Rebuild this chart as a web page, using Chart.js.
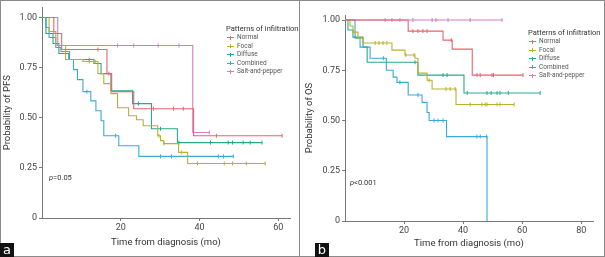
<!DOCTYPE html>
<html>
<head>
<meta charset="utf-8">
<script src="https://cdn.jsdelivr.net/npm/chart.js@4.4.1/dist/chart.umd.min.js"></script>
<style>
body { margin: 0; width: 605px; height: 257px; position: relative; background: #fff; overflow: hidden; font-family: Roboto, sans-serif; }
canvas { position: absolute; top: 0; }
#frame { position: absolute; left: 0; top: 0; width: 605px; height: 257px; box-sizing: border-box; border: 1px solid #8a8a8a; }
#divider { position: absolute; left: 299px; top: 0; width: 1px; height: 257px; background: #8a8a8a; }
.legend { position: absolute; color: #555; }
.legend .ttl { font-size: 7.5px; color: #333; height: 9px; line-height: 9px; }
.legend .item { font-size: 6.5px; height: 8.5px; line-height: 8.5px; position: relative; padding-left: 11px; white-space: nowrap; }
.legend .sym { position: absolute; left: 1px; top: 4px; width: 7px; height: 1px; }
.legend .sym i { position: absolute; left: 3px; top: -1.5px; width: 1px; height: 4px; background: inherit; }
.pval { position: absolute; font-size: 7.5px; color: #333; }
.tag { position: absolute; width: 14px; height: 14px; background: #111; color: #fff; font: 13px "DejaVu Sans", sans-serif; line-height: 13px; text-align: center; }
</style>
</head>
<body>
<canvas id="chartA" width="298" height="257" style="left:0"></canvas>
<canvas id="chartB" width="304" height="257" style="left:301px"></canvas>
<div id="frame"></div>
<div id="divider"></div>
<div class="legend" id="legA" style="left:226px; top:24px"></div>
<div class="legend" id="legB" style="left:528px; top:28px"></div>
<div class="pval" style="left:49px; top:173px"><i>p</i>=0.05</div>
<div class="pval" style="left:350px; top:178px"><i>p</i>&lt;0.001</div>
<div class="tag" style="left:0; top:243px">a</div>
<div class="tag" style="left:315px; top:243px">b</div>
<script>
const groups = ["Normal", "Focal", "Diffuse", "Combined", "Salt-and-pepper"];
const colors = ["#e8646e", "#b9b12c", "#27a98c", "#3aaad6", "#d77cc0"];

// panel a - progression free survival (months, probability)
const pfsNormalT = [0, 3, 5, 16.5, 17.7, 23.3, 38.5, 61];
const pfsNormalS = [1, 0.92, 0.84, 0.72, 0.63, 0.545, 0.41, 0.41];
const pfsNormalC = [14.2, 17, 28.3, 33.4, 35.9, 44.3, 61];

const pfsFocalT = [0, 1.8, 3.5, 6, 10.4, 14.2, 15.7, 17.5, 19.2, 22, 24, 25.7, 29.4, 30.1, 30.9, 34.7, 37, 56.7];
const pfsFocalS = [1, 0.93, 0.86, 0.79, 0.78, 0.72, 0.67, 0.62, 0.55, 0.51, 0.49, 0.46, 0.41, 0.386, 0.371, 0.327, 0.272, 0.272];
const pfsFocalC = [12, 13.5, 29.7, 31, 35.5, 39.5, 46.3, 48.4, 51.9, 56.7];

const pfsDiffuseT = [0, 1, 2.8, 4.3, 6.8, 13.2, 15, 17.5, 23, 27.8, 34.4, 55.9];
const pfsDiffuseS = [1, 0.92, 0.87, 0.82, 0.79, 0.77, 0.72, 0.634, 0.57, 0.445, 0.376, 0.376];
const pfsDiffuseC = [12, 24.5, 30.1, 34.8, 42.8, 47.3, 48.4, 51.1, 52.9, 55.9];

const pfsCombinedT = [0, 1, 1.8, 3.5, 4.8, 7, 8, 9, 10.4, 12.4, 13.7, 15, 15.7, 19.5, 24.6, 48.6];
const pfsCombinedS = [1, 0.95, 0.9, 0.85, 0.83, 0.79, 0.74, 0.69, 0.63, 0.584, 0.535, 0.485, 0.41, 0.36, 0.307, 0.307];
const pfsCombinedC = [11.4, 18.7, 30.1, 32.9, 44.8, 46.1, 48.6];

const pfsSaltT = [0, 4, 38.3, 42.5];
const pfsSaltS = [1, 0.86, 0.426, 0.426];
const pfsSaltC = [19.2, 23.3, 29.5, 34.8, 42.5];

// panel b - overall survival
const osNormalT = [0, 21.4, 33.2, 36.3, 43.1, 60.3];
const osNormalS = [1, 0.945, 0.9, 0.855, 0.726, 0.726];
const osNormalC = [23, 24.7, 26.4, 27.8, 36, 44.7, 45.8, 49.8, 50.3, 60.3];

const osFocalT = [0, 1.7, 2.7, 4.4, 6.1, 15.9, 20.3, 23.7, 24.7, 27.8, 29.5, 37.6, 57.3];
const osFocalS = [1, 0.97, 0.94, 0.91, 0.886, 0.85, 0.826, 0.81, 0.736, 0.7, 0.657, 0.58, 0.58];
const osFocalC = [10.2, 11.5, 12.9, 14.2, 20.6, 23.4, 28.5, 34.2, 35.6, 37.3, 42.4, 46.4, 47.5, 48.1, 51.5, 52.5, 57.3];

const osDiffuseT = [0, 1, 2.7, 6.1, 7.5, 24.7, 40.3, 66.1];
const osDiffuseS = [1, 0.95, 0.915, 0.866, 0.79, 0.726, 0.637, 0.637];
const osDiffuseC = [23.7, 33.2, 34.6, 41.4, 48.1, 49.5, 51.5, 52.5, 55.3, 66.1];

const osCombinedT = [0, 3.4, 5.1, 8.5, 14, 16.3, 17.6, 21.4, 26.1, 27.8, 28.5, 34.4, 48.1];
const osCombinedS = [1, 0.91, 0.865, 0.81, 0.75, 0.716, 0.69, 0.627, 0.59, 0.54, 0.5, 0.42, 0];
const osCombinedC = [13, 18.6, 24.7, 30.2, 31.5, 33.2, 44.7, 45.8, 48];

const osSaltT = [0, 53.2];
const osSaltS = [1, 1];
const osSaltC = [13.6, 15.9, 18.6, 23, 29.5, 30.8, 34.9, 42.4, 53.2];

const yTicks = [0, 0.25, 0.5, 0.75, 1];
const xTicksA = [20, 40, 60];
const xTicksB = [20, 40, 60, 80];

const pfsSeries = [
  [pfsNormalT, pfsNormalS, pfsNormalC],
  [pfsFocalT, pfsFocalS, pfsFocalC],
  [pfsDiffuseT, pfsDiffuseS, pfsDiffuseC],
  [pfsCombinedT, pfsCombinedS, pfsCombinedC],
  [pfsSaltT, pfsSaltS, pfsSaltC]
];
const osSeries = [
  [osNormalT, osNormalS, osNormalC],
  [osFocalT, osFocalS, osFocalC],
  [osDiffuseT, osDiffuseS, osDiffuseC],
  [osCombinedT, osCombinedS, osCombinedC],
  [osSaltT, osSaltS, osSaltC]
];

// value of the step curve at time t (used to put censor ticks on the curve)
function stepAt(T, S, t) {
  let v = S[0];
  for (let i = 0; i < T.length; i++) if (T[i] <= t) v = S[i];
  return v;
}

function buildDatasets(series) {
  const sets = [];
  series.forEach((s, i) => {
    const [T, S, C] = s;
    sets.push({
      data: T.map((t, j) => ({x: t, y: S[j]})),
      stepped: true,
      borderColor: colors[i],
      borderWidth: 1.1,
      pointRadius: 0,
      fill: false
    });
    sets.push({
      data: C.map(t => ({x: t, y: stepAt(T, S, t)})),
      showLine: false,
      pointStyle: 'line',
      rotation: 90,
      pointRadius: 2,
      borderColor: colors[i],
      borderWidth: 1
    });
  });
  return sets;
}

const tickFont = {family: 'Roboto', size: 9};
const titleFont = {family: 'Roboto', size: 9.5};

function makeChart(el, series, cfg) {
  return new Chart(el, {
    type: 'line',
    data: {datasets: buildDatasets(series)},
    options: {
      responsive: false,
      animation: false,
      events: [],
      layout: {padding: {top: cfg.top, right: cfg.right, left: 0, bottom: 0}},
      plugins: {legend: {display: false}, tooltip: {enabled: false}},
      scales: {
        x: {
          type: 'linear',
          min: 0,
          max: cfg.xMax,
          afterBuildTicks: s => { s.ticks = cfg.xTicks.map(v => ({value: v})); },
          afterFit: s => { s.height = cfg.xHeight; },
          grid: {drawOnChartArea: false, tickLength: 3, color: '#777'},
          border: {color: '#777'},
          ticks: {color: '#444', font: tickFont, padding: cfg.xPad, maxRotation: 0},
          title: {display: true, text: 'Time from diagnosis (mo)', color: '#333', font: titleFont, padding: {top: 0, bottom: cfg.titlePadB}}
        },
        y: {
          min: 0,
          max: cfg.yMax,
          afterBuildTicks: s => { s.ticks = yTicks.map(v => ({value: v})); },
          afterFit: s => { s.width = cfg.yWidth; },
          grid: {drawOnChartArea: false, tickLength: 3, color: '#777'},
          border: {color: '#777'},
          ticks: {color: '#444', font: tickFont, padding: 2, callback: v => v === 0 ? '0' : v.toFixed(2)},
          title: {display: true, text: cfg.yTitle, color: '#333', font: titleFont, padding: {top: cfg.yTitlePad, bottom: 0}}
        }
      }
    }
  });
}

makeChart(document.getElementById('chartA'), pfsSeries, {
  top: 6, right: 8, xMax: 63, yMax: 1.05, xTicks: xTicksA, xHeight: 39, xPad: 1,
  titlePadB: 9, yWidth: 42, yTitle: 'Probability of PFS', yTitlePad: 2
});
makeChart(document.getElementById('chartB'), osSeries, {
  top: 15, right: 12, xMax: 84, yMax: 1.025, xTicks: xTicksB, xHeight: 36, xPad: 1,
  titlePadB: 8, yWidth: 44, yTitle: 'Probability of OS', yTitlePad: 3
});

function buildLegend(id) {
  const box = document.getElementById(id);
  let html = '<div class="ttl">Patterns of infiltration</div>';
  groups.forEach((g, i) => {
    html += '<div class="item"><span class="sym" style="background:' + colors[i] + '"><i></i></span>' + g + '</div>';
  });
  box.innerHTML = html;
}
buildLegend('legA');
buildLegend('legB');
</script>
</body>
</html>
